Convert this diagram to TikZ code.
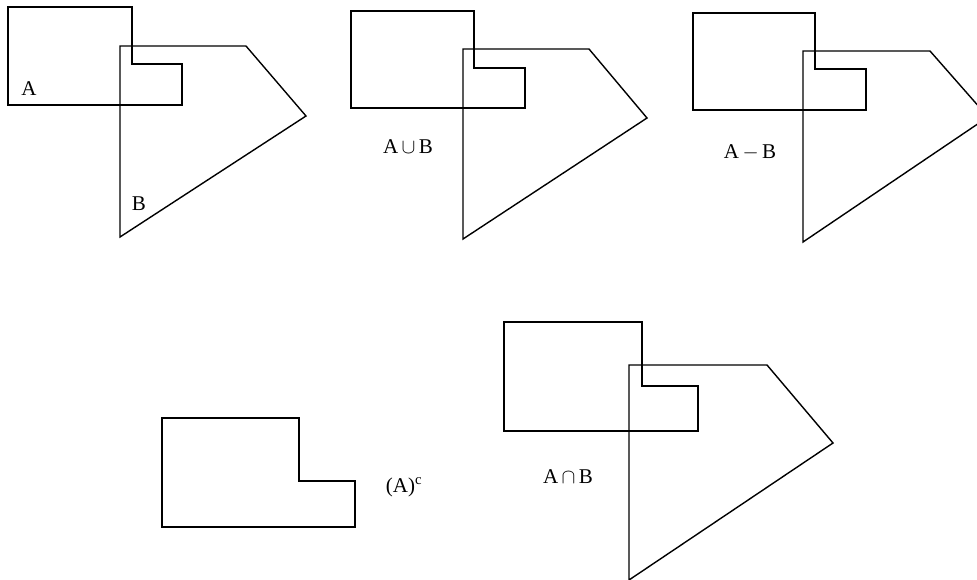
\documentclass[tikz,border=0pt]{standalone}
\usepackage{fontspec}
\setmainfont{Liberation Serif}
\begin{document}
\begin{tikzpicture}[x=1pt,y=-1pt,
  outline/.style={draw=black,line width=1.4pt,line join=miter},
  lbl/.style={font=\fontsize{21}{24}\selectfont,inner sep=0pt}]
\useasboundingbox (0,0) rectangle (977,580);
% figure 1: A and B
\draw[outline] (8,7) -- (132,7) -- (132,64) -- (182,64) -- (182,105) -- (8,105) -- cycle;
\draw[outline] (120,46) -- (246,46) -- (306,116) -- (120,237) -- cycle;
\node[lbl] (la) at (29,89) {A};
\node[lbl] (lb) at (139,204) {B};
% figure 2: A union B
\draw[outline] (351,11) -- (474,11) -- (474,68) -- (525,68) -- (525,108) -- (351,108) -- cycle;
\draw[outline] (463,49) -- (589,49) -- (647,118) -- (463,239) -- cycle;
\node[lbl] (lu) at (408,147) {A$\,\cup\,$B};
% figure 3: A minus B
\begin{scope}
\clip (0,0) rectangle (977,580);
\draw[outline] (693,13) -- (815,13) -- (815,69) -- (866,69) -- (866,110) -- (693,110) -- cycle;
\draw[outline] (803,51) -- (930,51) -- (988,117) -- (803,242) -- cycle;
\end{scope}
\node[lbl] (lm) at (750,152) {A$\,-\,$B};
% figure 4: complement
\draw[outline] (162,418) -- (299,418) -- (299,481) -- (355,481) -- (355,527) -- (162,527) -- cycle;
\node[lbl] (lc) at (404,487) {(A)\textsuperscript{c}};
% figure 5: A intersect B
\draw[outline] (504,322) -- (642,322) -- (642,386) -- (698,386) -- (698,431) -- (504,431) -- cycle;
\draw[outline] (629,365) -- (767,365) -- (833,443) -- (629,580) -- cycle;
\node[lbl] (li) at (568,477) {A$\,\cap\,$B};
\end{tikzpicture}
\end{document}
